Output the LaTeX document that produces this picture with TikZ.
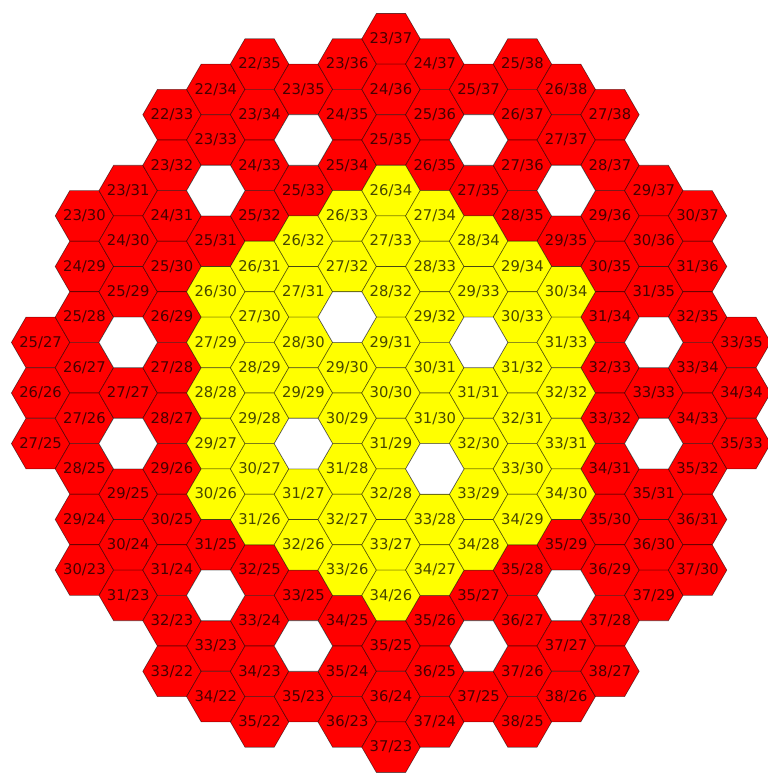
\documentclass[tikz,border=0pt]{standalone}
\usepackage{fontspec}
\setmainfont{DejaVu Sans}
\usetikzlibrary{shapes.geometric}
\definecolor{cellred}{RGB}{255,0,0}
\definecolor{cellyellow}{RGB}{255,255,0}
\tikzset{
  hexcell/.style={regular polygon,regular polygon sides=6,minimum size=1.46cm,inner sep=0pt,outer sep=0pt,
    draw=black,draw opacity=0.55,line width=0.45pt},
  hexred/.style={hexcell,fill=cellred},
  hexyellow/.style={hexcell,fill=cellyellow},
  hexempty/.style={hexcell,fill=white},
  hextext/.style={font=\fontsize{10.5}{12}\selectfont,text opacity=0.72,inner sep=0pt}
}
\newcommand{\hexat}[3]{\node[#1] (h#2x#3) at ({9.775+1.095*(#2+#3-60)},{9.525-0.6325*(#2-#3)}) {};}
\newcommand{\hexlab}[2]{\node[hextext] (t#1x#2) at (h#1x#2) {#1/#2};}
\begin{document}
\begin{tikzpicture}
\useasboundingbox (0,0) rectangle (19.175,19.35);
\foreach \a/\b in {25/27,26/26,27/25,
  23/30,24/29,25/28,26/27,27/26,28/25,29/24,30/23,
  23/31,24/30,25/29,27/27,29/25,30/24,31/23,
  22/33,23/32,24/31,25/30,26/29,27/28,28/27,29/26,30/25,31/24,32/23,33/22,
  22/34,23/33,25/31,31/25,33/23,34/22,
  22/35,23/34,24/33,25/32,32/25,33/24,34/23,35/22,
  23/35,25/33,33/25,35/23,
  23/36,24/35,25/34,34/25,35/24,36/23,
  23/37,24/36,25/35,35/25,36/24,37/23,
  24/37,25/36,26/35,35/26,36/25,37/24,
  25/37,27/35,35/27,37/25,
  25/38,26/37,27/36,28/35,35/28,36/27,37/26,38/25,
  26/38,27/37,29/35,35/29,37/27,38/26,
  27/38,28/37,29/36,30/35,31/34,32/33,33/32,34/31,35/30,36/29,37/28,38/27,
  29/37,30/36,31/35,33/33,35/31,36/30,37/29,
  30/37,31/36,32/35,33/34,34/33,35/32,36/31,37/30,
  33/35,34/34,35/33}
  {\hexat{hexred}{\a}{\b}\hexlab{\a}{\b}}
\foreach \a/\b in {26/30,27/29,28/28,29/27,30/26,
  26/31,27/30,28/29,29/28,30/27,31/26,
  26/32,27/31,28/30,29/29,31/27,32/26,
  26/33,27/32,29/30,30/29,31/28,32/27,33/26,
  26/34,27/33,28/32,29/31,30/30,31/29,32/28,33/27,34/26,
  27/34,28/33,29/32,30/31,31/30,33/28,34/27,
  28/34,29/33,31/31,32/30,33/29,34/28,
  29/34,30/33,31/32,32/31,33/30,34/29,
  30/34,31/33,32/32,33/31,34/30}
  {\hexat{hexyellow}{\a}{\b}\hexlab{\a}{\b}}
\foreach \a/\b in {28/31,30/32,30/28,32/29,26/28,28/26,24/32,32/24,24/34,34/24,26/36,36/26,28/36,36/28,32/34,34/32}
  {\hexat{hexempty}{\a}{\b}}
\end{tikzpicture}
\end{document}
